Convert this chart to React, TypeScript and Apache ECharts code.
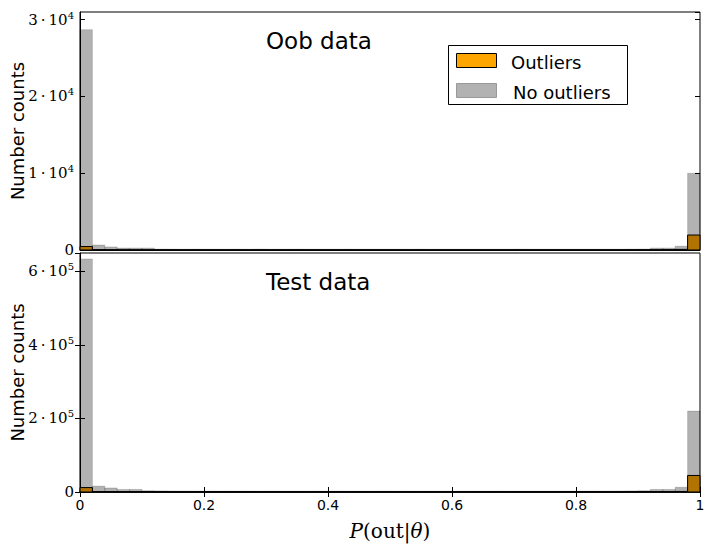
import React, { useEffect, useRef } from "react";
import * as echarts from "echarts";

const binWidth = 0.02;
const binStarts = Array.from({ length: 50 }, (_, i) => +(i * binWidth).toFixed(2));

const oobNoOutliers = [
  28700, 650, 400, 250, 250, 250, 120, 110, 100, 110, 100, 100, 110, 100, 120, 100, 100, 110, 100, 100,
  100, 110, 100, 100, 100, 100, 100, 110, 100, 100, 100, 100, 100, 100, 100, 120, 100, 100, 100, 100,
  100, 100, 100, 100, 120, 130, 250, 250, 500, 10000,
];
const oobOutliers = [
  450, 40, 30, 20, 20, 20, 15, 15, 15, 15, 15, 15, 15, 15, 15, 15, 15, 15, 15, 15,
  15, 15, 15, 15, 15, 15, 15, 15, 15, 15, 15, 15, 15, 15, 15, 15, 15, 15, 15, 15,
  15, 15, 15, 20, 20, 20, 30, 40, 80, 1950,
];
const testNoOutliers = [
  634000, 16000, 11000, 7000, 7000, 3500, 3000, 2800, 2600, 2500, 2500, 2400, 2400, 2400, 2300, 2300, 2300, 2300, 2300, 2300,
  2300, 2300, 2300, 2300, 2300, 2300, 2300, 2300, 2300, 2300, 2300, 2300, 2300, 2300, 2300, 2300, 2300, 2300, 2300, 2400,
  2400, 2500, 2600, 2800, 3000, 3500, 7000, 7000, 13000, 220000,
];
const testOutliers = [
  12000, 900, 700, 500, 400, 400, 300, 300, 300, 300, 300, 300, 300, 300, 300, 300, 300, 300, 300, 300,
  300, 300, 300, 300, 300, 300, 300, 300, 300, 300, 300, 300, 300, 300, 300, 300, 300, 300, 300, 300,
  300, 300, 300, 300, 400, 400, 600, 800, 1500, 45000,
];

const xTicks = ["0", "0.2", "0.4", "0.6", "0.8", "1"];
const panelTitles = ["Oob data", "Test data"];
const legendNames = ["Outliers", "No outliers"];

const ORANGE = "#ffa500";
const GRAY = "rgba(0,0,0,0.3)";

function toData(vals: number[]) {
  return vals.map((v, i) => [binStarts[i], +(binStarts[i] + binWidth).toFixed(2), v]);
}

function makeRender(fill: string, stroke: string) {
  return (params: any, api: any) => {
    const p0 = api.coord([api.value(0), 0]);
    const p1 = api.coord([api.value(1), api.value(2)]);
    return {
      type: "rect",
      shape: { x: p0[0], y: p1[1], width: p1[0] - p0[0], height: p0[1] - p1[1] },
      style: { fill, stroke, lineWidth: 1 },
    };
  };
}

const serifFont = "DejaVu Serif";
const sansFont = "DejaVu Sans";

function yFmt(exp: number, step: number) {
  return (v: number) => {
    if (v === 0) return "{b|0}";
    if (Math.abs(v / step - Math.round(v / step)) > 1e-6) return "";
    const m = Math.round(v / Math.pow(10, exp));
    return `{b|${m}\u2009·\u200910}{s|${exp}}`;
  };
}

const yRich = {
  b: { fontFamily: serifFont, fontSize: 15, color: "#000" },
  s: { fontFamily: serifFont, fontSize: 10, color: "#000", padding: [0, 0, 9, 0] },
};

export default function App() {
  const ref = useRef<HTMLDivElement>(null);
  useEffect(() => {
    if (!ref.current) return;
    const chart = echarts.init(ref.current, undefined, { renderer: "svg" });
    const tick = { show: true, inside: true, length: 5, lineStyle: { color: "#000", width: 1 } };
    const yName = {
      name: "Number counts",
      nameLocation: "middle" as const,
      nameGap: 54,
      nameMoveOverlap: false,
      nameTextStyle: { fontFamily: sansFont, fontSize: 18, color: "#000" },
    };
    const gridBase = {
      left: 80, right: 14, show: true, borderColor: "#000", borderWidth: 1,
      containLabel: false, outerBoundsMode: "none",
    };
    chart.setOption({
      animation: false,
      grid: [
        { ...gridBase, top: 12, height: 238 },
        { ...gridBase, top: 253, height: 239 },
      ],
      title: panelTitles.map((t, i) => ({
        text: t,
        left: 266,
        top: i === 0 ? 29 : 270,
        padding: 0,
        textStyle: { fontFamily: sansFont, fontSize: 23, fontWeight: "normal", color: "#000" },
      })),
      xAxis: [
        {
          type: "value", gridIndex: 0, min: 0, max: 1, interval: 0.2,
          axisLine: { show: true, lineStyle: { color: "#000" } },
          axisTick: { show: false }, axisLabel: { show: false }, splitLine: { show: false },
        },
        {
          type: "value", gridIndex: 1, min: 0, max: 1, interval: 0.2,
          axisLine: { show: true, lineStyle: { color: "#000", width: 1.5 } },
          axisTick: tick,
          axisLabel: {
            margin: 6,
            fontFamily: sansFont, fontSize: 14, color: "#000",
            formatter: (v: number) => xTicks[Math.round(v / 0.2)],
          },
          splitLine: { show: false },
          name: "{i|P}{r|(out|}{i|θ}{r|)}",
          nameLocation: "middle",
          nameGap: 29,
          nameMoveOverlap: false,
          nameTextStyle: {
            rich: {
              i: { fontFamily: serifFont, fontStyle: "italic", fontSize: 20, color: "#000" },
              r: { fontFamily: serifFont, fontSize: 20, color: "#000" },
            },
          },
        },
        {
          type: "value", gridIndex: 1, min: 0, max: 1, interval: 0.2, position: "top",
          axisLine: { show: false }, axisTick: tick, axisLabel: { show: false }, splitLine: { show: false },
        },
      ],
      yAxis: [
        {
          type: "value", gridIndex: 0, min: 0, max: 31000, interval: 10000,
          axisLine: { show: true, lineStyle: { color: "#000" } }, axisTick: tick,
          axisLabel: { margin: 6, showMaxLabel: false, formatter: yFmt(4, 10000), rich: yRich },
          splitLine: { show: false }, ...yName,
        },
        {
          type: "value", gridIndex: 0, min: 0, max: 31000, interval: 10000, position: "right",
          axisLine: { show: false }, axisTick: tick, axisLabel: { show: false }, splitLine: { show: false },
        },
        {
          type: "value", gridIndex: 1, min: 0, max: 650000, interval: 200000,
          axisLine: { show: true, lineStyle: { color: "#000" } }, axisTick: tick,
          axisLabel: { margin: 6, showMaxLabel: false, formatter: yFmt(5, 200000), rich: yRich },
          splitLine: { show: false }, ...yName,
        },
        {
          type: "value", gridIndex: 1, min: 0, max: 650000, interval: 200000, position: "right",
          axisLine: { show: false }, axisTick: tick, axisLabel: { show: false }, splitLine: { show: false },
        },
      ],
      series: [
        { type: "custom", name: legendNames[0], xAxisIndex: 0, yAxisIndex: 0, data: toData(oobOutliers), renderItem: makeRender(ORANGE, "#000"), encode: { x: [0, 1], y: 2 }, z: 2 },
        { type: "custom", name: legendNames[1], xAxisIndex: 0, yAxisIndex: 0, data: toData(oobNoOutliers), renderItem: makeRender(GRAY, "rgba(0,0,0,0.15)"), encode: { x: [0, 1], y: 2 }, z: 3 },
        { type: "custom", name: legendNames[0], xAxisIndex: 1, yAxisIndex: 2, data: toData(testOutliers), renderItem: makeRender(ORANGE, "#000"), encode: { x: [0, 1], y: 2 }, z: 2 },
        { type: "custom", name: legendNames[1], xAxisIndex: 1, yAxisIndex: 2, data: toData(testNoOutliers), renderItem: makeRender(GRAY, "rgba(0,0,0,0.15)"), encode: { x: [0, 1], y: 2 }, z: 3 },
      ],
      graphic: [
        {
          type: "group", left: 448, top: 45,
          children: [
            { type: "rect", shape: { x: 0.5, y: 0.5, width: 179, height: 59 }, style: { fill: "#fff", stroke: "#000", lineWidth: 1 } },
            { type: "rect", shape: { x: 8.5, y: 8.5, width: 40, height: 14 }, style: { fill: ORANGE, stroke: "#000", lineWidth: 1 } },
            { type: "rect", shape: { x: 8.5, y: 38.5, width: 40, height: 14 }, style: { fill: "#b2b2b2", stroke: "#999", lineWidth: 1 } },
            { type: "text", x: 63, y: 17, style: { text: legendNames[0], fontFamily: sansFont, fontSize: 18, fill: "#000", verticalAlign: "middle" } },
            { type: "text", x: 65, y: 47, style: { text: legendNames[1], fontFamily: sansFont, fontSize: 18, fill: "#000", verticalAlign: "middle" } },
          ],
        },
      ],
    });
    return () => chart.dispose();
  }, []);
  return <div ref={ref} style={{ position: "absolute", left: 0, top: 0, width: 714, height: 554 }} />;
}
